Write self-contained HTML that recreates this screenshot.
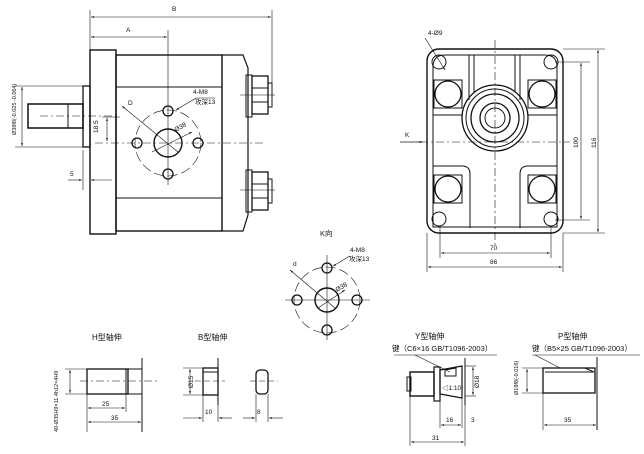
<!DOCTYPE html>
<html><head><meta charset="utf-8"><style>
html,body{margin:0;padding:0;background:#fff;}
svg{display:block;font-family:"Liberation Sans","Noto Sans CJK SC",sans-serif;}
</style></head><body>
<svg width="644" height="454" viewBox="0 0 644 454" xmlns="http://www.w3.org/2000/svg">
<defs>
<marker id="a" viewBox="0 0 10 10" refX="10" refY="5" markerWidth="6" markerHeight="5" orient="auto-start-reverse"><path d="M0,2 L10,5 L0,8z" fill="#111"/></marker>
</defs>
<g stroke="#111" fill="none" stroke-width="1">
<!-- main side view -->
<rect x="90" y="50" width="26" height="184" stroke-width="1.4"/>
<rect x="116" y="55" width="106" height="176" stroke-width="1.4"/>
<line x1="116" y1="87" x2="222" y2="87"/>
<line x1="116" y1="198" x2="222" y2="198"/>
<path d="M222,55 L243,55 L248,68 L248,215 L243,231 L222,231" stroke-width="1.2"/>
<rect x="246" y="75" width="6" height="42"/><rect x="246" y="170" width="6" height="42"/>
<rect x="252" y="76" width="16" height="38" stroke-width="1.3"/><rect x="268" y="83" width="4" height="24"/>
<rect x="252" y="172" width="16" height="38" stroke-width="1.3"/><rect x="268" y="179" width="4" height="24"/>
<line x1="252" y1="88" x2="268" y2="88"/><line x1="252" y1="102" x2="268" y2="102"/>
<line x1="252" y1="184" x2="268" y2="184"/><line x1="252" y1="198" x2="268" y2="198"/>
<rect x="83" y="86" width="7" height="61" stroke-width="1.3"/>
<rect x="28" y="104" width="55" height="24" stroke-width="1.5"/>
<line x1="68" y1="104" x2="68" y2="128"/>
<line x1="40" y1="116" x2="120" y2="116" stroke-dasharray="8,3,2,3" stroke-width=".6"/>
<line x1="95" y1="143" x2="265" y2="143" stroke-dasharray="8,3,2,3" stroke-width=".6"/>
<line x1="240" y1="95" x2="275" y2="95" stroke-width=".6"/><line x1="240" y1="190" x2="275" y2="190" stroke-width=".6"/>
<!-- dims -->
<line x1="90" y1="10" x2="90" y2="50" stroke-width=".6"/><line x1="272" y1="10" x2="272" y2="95" stroke-width=".6"/>
<line x1="91" y1="17" x2="271" y2="17" stroke-width=".6" marker-start="url(#a)" marker-end="url(#a)"/>
<line x1="91" y1="37" x2="167" y2="37" stroke-width=".6" marker-start="url(#a)" marker-end="url(#a)"/>
<line x1="168" y1="30" x2="168" y2="185" stroke-width=".6"/>
<line x1="15" y1="86" x2="83" y2="86" stroke-width=".6"/><line x1="15" y1="147" x2="83" y2="147" stroke-width=".6"/>
<line x1="22" y1="87" x2="22" y2="146" stroke-width=".6" marker-start="url(#a)" marker-end="url(#a)"/>
<line x1="102" y1="117" x2="120" y2="117" stroke-width=".6"/>
<line x1="107" y1="118" x2="107" y2="141" stroke-width=".6" marker-start="url(#a)" marker-end="url(#a)"/>
<line x1="83" y1="150" x2="83" y2="190" stroke-width=".6"/>
<line x1="68" y1="180" x2="82" y2="180" stroke-width=".6" marker-end="url(#a)"/>
<line x1="112" y1="180" x2="91" y2="180" stroke-width=".6" marker-end="url(#a)"/>
<!-- bolt pattern -->
<circle cx="168" cy="143" r="33" stroke-dasharray="10,4" stroke-width=".6"/>
<circle cx="168" cy="143" r="14" stroke-width="1.4"/>
<circle cx="168" cy="111" r="5" stroke-width="1.3"/><circle cx="137" cy="143" r="5" stroke-width="1.3"/>
<circle cx="198" cy="143" r="5" stroke-width="1.3"/><circle cx="168" cy="174" r="5" stroke-width="1.3"/>
<line x1="122" y1="106" x2="178" y2="152" stroke-width=".6" marker-start="url(#a)"/>
<line x1="152" y1="152" x2="192" y2="132" stroke-width=".6" marker-end="url(#a)"/>
<line x1="196" y1="98" x2="176" y2="110" stroke-width=".6" marker-end="url(#a)"/>
<line x1="196" y1="98" x2="215" y2="98" stroke-width=".6"/>
<!-- front view -->
<rect x="427" y="49" width="136" height="184" rx="12" stroke-width="1.4"/>
<path d="M445,55 L545,55 Q557,55 557,67 L557,227 L433,227 L433,67 Q433,55 445,55Z" stroke-width="1"/>
<circle cx="439" cy="62" r="7"/><circle cx="551" cy="62" r="7"/><circle cx="439" cy="219" r="7"/><circle cx="551" cy="219" r="7"/>
<rect x="434" y="80" width="28" height="28"/><circle cx="448" cy="94" r="13" stroke-width="1.3"/>
<rect x="528" y="80" width="28" height="28"/><circle cx="542" cy="94" r="13" stroke-width="1.3"/>
<rect x="434" y="175" width="28" height="28"/><circle cx="448" cy="189" r="13" stroke-width="1.3"/>
<rect x="528" y="175" width="28" height="28"/><circle cx="542" cy="189" r="13" stroke-width="1.3"/>
<path d="M433,166 L462,166 Q470,166 470,174 L470,228"/><path d="M557,166 L528,166 Q520,166 520,174 L520,228"/>
<line x1="469" y1="55" x2="469" y2="100"/><line x1="520" y1="55" x2="520" y2="100"/>
<line x1="474" y1="55" x2="474" y2="92"/><line x1="515" y1="55" x2="515" y2="92"/>
<line x1="433" y1="115" x2="462" y2="115"/><line x1="528" y1="115" x2="557" y2="115"/>
<circle cx="495" cy="118" r="33" stroke-width="1.3"/><circle cx="495" cy="118" r="29"/><circle cx="495" cy="118" r="24" stroke-width="1.3"/>
<circle cx="495" cy="118" r="15" stroke-width="1.3"/><circle cx="495" cy="118" r="10"/>
<line x1="495" y1="40" x2="495" y2="245" stroke-dasharray="8,3,2,3" stroke-width=".6"/>
<line x1="420" y1="142" x2="570" y2="142" stroke-dasharray="8,3,2,3" stroke-width=".6"/>
<line x1="400" y1="142" x2="423" y2="142" stroke-width=".7" marker-end="url(#a)"/>
<line x1="425" y1="38" x2="445" y2="70" stroke-width=".6" marker-end="url(#a)"/>
<line x1="427" y1="233" x2="427" y2="272" stroke-width=".6"/><line x1="563" y1="233" x2="563" y2="272" stroke-width=".6"/>
<line x1="440" y1="226" x2="440" y2="258" stroke-width=".6"/><line x1="551" y1="226" x2="551" y2="258" stroke-width=".6"/>
<line x1="441" y1="253" x2="550" y2="253" stroke-width=".6" marker-start="url(#a)" marker-end="url(#a)"/>
<line x1="428" y1="267" x2="562" y2="267" stroke-width=".6" marker-start="url(#a)" marker-end="url(#a)"/>
<line x1="555" y1="62" x2="590" y2="62" stroke-width=".6"/><line x1="555" y1="220" x2="590" y2="220" stroke-width=".6"/>
<line x1="563" y1="49" x2="605" y2="49" stroke-width=".6"/><line x1="563" y1="233" x2="605" y2="233" stroke-width=".6"/>
<line x1="581" y1="63" x2="581" y2="219" stroke-width=".6" marker-start="url(#a)" marker-end="url(#a)"/>
<line x1="598" y1="50" x2="598" y2="232" stroke-width=".6" marker-start="url(#a)" marker-end="url(#a)"/>
<!-- K view -->
<circle cx="327" cy="300" r="33" stroke-dasharray="10,4" stroke-width=".6"/>
<circle cx="327" cy="300" r="12" stroke-width="1.4"/>
<circle cx="327" cy="268" r="5" stroke-width="1.3"/><circle cx="297" cy="300" r="5" stroke-width="1.3"/>
<circle cx="357" cy="300" r="5" stroke-width="1.3"/><circle cx="327" cy="330" r="5" stroke-width="1.3"/>
<line x1="285" y1="300" x2="370" y2="300" stroke-width=".6"/><line x1="327" y1="255" x2="327" y2="340" stroke-width=".6"/>
<line x1="290" y1="270" x2="335" y2="308" stroke-width=".6" marker-start="url(#a)"/>
<line x1="318" y1="308" x2="345" y2="290" stroke-width=".6" marker-end="url(#a)"/>
<line x1="350" y1="256" x2="333" y2="266" stroke-width=".6" marker-end="url(#a)"/>
<!-- H shaft -->
<rect x="87" y="369" width="41" height="25" stroke-width="1.3"/>
<line x1="126" y1="369" x2="126" y2="394"/>
<line x1="142" y1="358" x2="142" y2="432"/><line x1="128" y1="369" x2="142" y2="369"/><line x1="128" y1="394" x2="142" y2="394"/>
<line x1="80" y1="381" x2="160" y2="381" stroke-dasharray="8,3,2,3" stroke-width=".6"/>
<line x1="65" y1="369" x2="87" y2="369" stroke-width=".6"/><line x1="65" y1="394" x2="87" y2="394" stroke-width=".6"/>
<line x1="70" y1="370" x2="70" y2="393" stroke-width=".6" marker-start="url(#a)" marker-end="url(#a)"/>
<line x1="87" y1="394" x2="87" y2="432" stroke-width=".6"/><line x1="126" y1="394" x2="126" y2="412" stroke-width=".6"/>
<line x1="88" y1="408" x2="125" y2="408" stroke-width=".6" marker-start="url(#a)" marker-end="url(#a)"/>
<line x1="88" y1="422" x2="141" y2="422" stroke-width=".6" marker-start="url(#a)" marker-end="url(#a)"/>
<!-- B shaft -->
<rect x="203" y="368" width="15" height="27" stroke-width="1.3"/><line x1="203" y1="372" x2="218" y2="372"/>
<line x1="218" y1="358" x2="218" y2="405"/>
<line x1="195" y1="381" x2="225" y2="381" stroke-dasharray="6,3" stroke-width=".6"/>
<line x1="183" y1="368" x2="203" y2="368" stroke-width=".6"/><line x1="183" y1="395" x2="203" y2="395" stroke-width=".6"/>
<line x1="190" y1="369" x2="190" y2="394" stroke-width=".6" marker-start="url(#a)" marker-end="url(#a)"/>
<line x1="203" y1="395" x2="203" y2="422" stroke-width=".6"/><line x1="218" y1="405" x2="218" y2="422" stroke-width=".6"/>
<line x1="183" y1="418" x2="202" y2="418" stroke-width=".6" marker-end="url(#a)"/>
<line x1="232" y1="418" x2="219" y2="418" stroke-width=".6" marker-end="url(#a)"/>
<rect x="256" y="370" width="12" height="24" rx="4" stroke-width="1.3"/>
<line x1="250" y1="381" x2="278" y2="381" stroke-dasharray="6,3" stroke-width=".6"/>
<line x1="256" y1="394" x2="256" y2="422" stroke-width=".6"/><line x1="268" y1="394" x2="268" y2="422" stroke-width=".6"/>
<line x1="243" y1="418" x2="255" y2="418" stroke-width=".6" marker-end="url(#a)"/>
<line x1="283" y1="418" x2="269" y2="418" stroke-width=".6" marker-end="url(#a)"/>
<!-- Y shaft -->
<line x1="394" y1="355" x2="497" y2="355" stroke-width=".6"/>
<line x1="415" y1="355" x2="450" y2="372" stroke-width=".6"/>
<rect x="410" y="372" width="24" height="24" stroke-width="1.4"/><rect x="407" y="377" width="4" height="14"/>
<rect x="434" y="367" width="6" height="34" stroke-width="1.2"/>
<path d="M440,370 L462,366 L462,398 L440,394Z" stroke-width="1.2"/>
<path d="M445,370 L456,368 L456,376 L445,376Z"/>
<line x1="465" y1="358" x2="465" y2="405"/>
<line x1="465" y1="366" x2="476" y2="366" stroke-width=".6"/><line x1="465" y1="396" x2="476" y2="396" stroke-width=".6"/>
<line x1="473" y1="367" x2="473" y2="395" stroke-width=".6" marker-start="url(#a)" marker-end="url(#a)"/>
<line x1="410" y1="396" x2="410" y2="446" stroke-width=".6"/><line x1="440" y1="401" x2="440" y2="428" stroke-width=".6"/>
<line x1="462" y1="398" x2="462" y2="428" stroke-width=".6"/><line x1="465" y1="405" x2="465" y2="446" stroke-width=".6"/>
<line x1="441" y1="425" x2="461" y2="425" stroke-width=".6" marker-start="url(#a)" marker-end="url(#a)"/>
<line x1="411" y1="442" x2="464" y2="442" stroke-width=".6" marker-start="url(#a)" marker-end="url(#a)"/>
<!-- P shaft -->
<line x1="532" y1="355" x2="640" y2="355" stroke-width=".6"/>
<line x1="535" y1="355" x2="560" y2="368" stroke-width=".6"/>
<rect x="543" y="368" width="52" height="25" stroke-width="1.3"/>
<path d="M545,368 L585,368 L594,372 L545,372"/>
<line x1="597" y1="357" x2="597" y2="430"/>
<line x1="522" y1="368" x2="543" y2="368" stroke-width=".6"/><line x1="522" y1="393" x2="543" y2="393" stroke-width=".6"/>
<line x1="527" y1="369" x2="527" y2="392" stroke-width=".6" marker-start="url(#a)" marker-end="url(#a)"/>
<line x1="543" y1="393" x2="543" y2="430" stroke-width=".6"/>
<line x1="544" y1="425" x2="596" y2="425" stroke-width=".6" marker-start="url(#a)" marker-end="url(#a)"/>
</g>
<g fill="#111" font-size="6.5">
<text x="172" y="11">B</text><text x="126" y="32">A</text>
<text x="128" y="105">D</text>
<text x="193" y="94">4-M8</text><text x="195" y="104">攻深13</text>
<text x="176" y="132" transform="rotate(-30 176 132)">Ø38</text>
<text x="70" y="176">5</text>
<text x="98" y="133" transform="rotate(-90 98 133)">18.5</text>
<text x="16" y="135" font-size="5.5" transform="rotate(-90 16 135)">Ø38f8(-0.025 -0.064)</text>
<text x="428" y="35">4-Ø9</text><text x="405" y="137">K</text>
<text x="490" y="250">70</text><text x="490" y="264">86</text>
<text x="578" y="148" transform="rotate(-90 578 148)">100</text>
<text x="596" y="148" transform="rotate(-90 596 148)">116</text>
<text x="320" y="236" font-size="7.5">K向</text>
<text x="350" y="252">4-M8</text><text x="349" y="261">攻深13</text>
<text x="293" y="266">d</text><text x="337" y="292" transform="rotate(-30 337 292)">Ø38</text>
<text x="92" y="340" font-size="8">H型轴伸</text><text x="198" y="340" font-size="8">B型轴伸</text>
<text x="102" y="406">25</text><text x="111" y="420">35</text>
<text x="58" y="432" font-size="5.5" transform="rotate(-90 58 432)">40-Ø35H9×11.4h12×4H9</text>
<text x="193" y="388" transform="rotate(-90 193 388)">Ø15</text>
<text x="205" y="414">10</text><text x="257" y="414">8</text>
<text x="415" y="339" font-size="8">Y型轴伸</text>
<text x="392" y="351" font-size="7.5">键（C6×16  GB/T1096-2003）</text>
<text x="442" y="390">◁1:10</text>
<text x="479" y="388" transform="rotate(-90 479 388)">Ø18</text>
<text x="446" y="422">16</text><text x="471" y="422">3</text><text x="432" y="440">31</text>
<text x="558" y="339" font-size="8">P型轴伸</text>
<text x="532" y="351" font-size="7.5">键（B5×25  GB/T1096-2003）</text>
<text x="518" y="395" font-size="5.5" transform="rotate(-90 518 395)">Ø18f8(-0.016)</text>
<text x="564" y="422">35</text>
</g>
</svg>
</body></html>
